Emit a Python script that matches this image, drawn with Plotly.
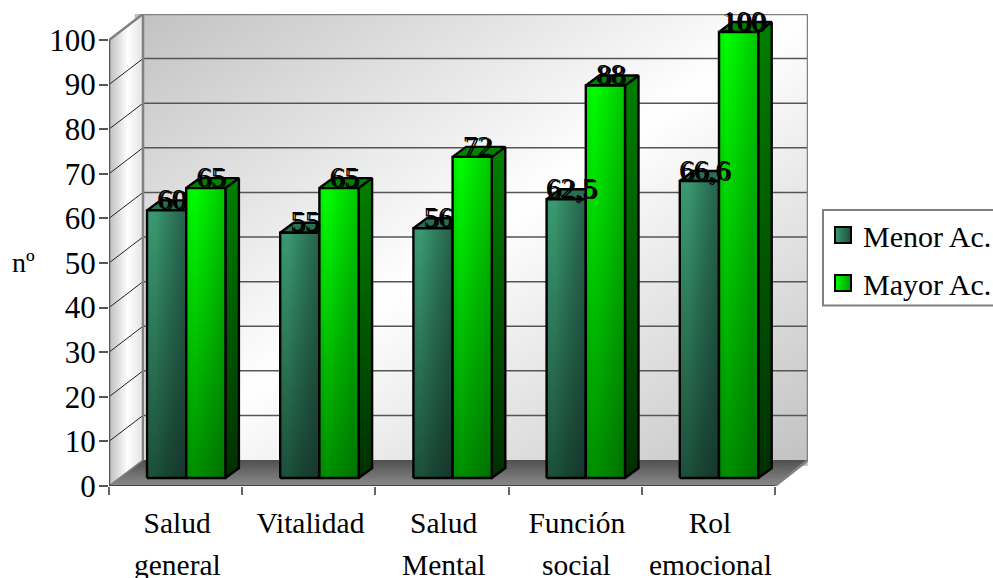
import numpy as np
import plotly.graph_objects as go

# Chart data
line_one = ["Salud", "Vitalidad", "Salud", "Función", "Rol"]
line_two = ["general", "", "Mental", "social", "emocional"]
menor_values = [60, 55, 56, 62.5, 66.6]
mayor_values = [65, 65, 72, 88, 100]
series_names = ["Menor Ac.", "Mayor Ac."]
y_ticks = list(range(0, 101, 10))

# Axis scale: pixels per unit along each axis
PX_X = 133.2
PX_Y = 4.47
FONT = "Liberation Serif"

# Depth of the 3D box and of the bars, in axis units
WALL_DX, WALL_DY = 34 / PX_X, 26 / PX_Y
BASE_Y = 8 / PX_Y
SIDE_DX, SIDE_DY = 13.5 / PX_X, 10 / PX_Y
BAR_START, BAR_W = 38 / PX_X, 39.2 / PX_X
LABEL_DX, LABEL_DY = 5 / PX_X, 8.5 / PX_Y
N = len(menor_values)
GRID = "#555555"
EDGE = "#808080"

fig = go.Figure()


def poly(xs, ys, gradient=None, kind="vertical", line=None, width=2.4):
    """Closed filled polygon, optionally with a gradient fill and an outline."""
    trace = dict(
        x=list(xs) + [xs[0]], y=list(ys) + [ys[0]],
        mode="lines", fill="toself", hoverinfo="skip", showlegend=False,
        line=dict(color=line or "rgba(0,0,0,0)", width=width if line else 0),
    )
    if gradient is not None:
        trace["fillgradient"] = dict(type=kind, colorscale=gradient)
    fig.add_trace(go.Scatter(**trace))


def segment(xs, ys, color, width):
    fig.add_trace(go.Scatter(x=xs, y=ys, mode="lines", hoverinfo="skip", showlegend=False,
                             line=dict(color=color, width=width)))


# Back wall with its diagonal shading
wall_x = np.linspace(WALL_DX, N + 33 / PX_X, 41)
wall_y = np.linspace(WALL_DY, 100 + WALL_DY, 41)
uu, vv = np.meshgrid(np.linspace(0, 1, 41), np.linspace(1, 0, 41))
fig.add_trace(go.Heatmap(
    x=wall_x, y=wall_y, z=(uu + vv) / 2, zmin=0, zmax=1, zsmooth="best",
    showscale=False, hoverinfo="skip",
    colorscale=[[0, "#c2c2c2"], [0.5, "#ffffff"], [1, "#c2c2c2"]],
))
right = wall_x[-1]

# Left wall
poly([0, WALL_DX, WALL_DX, 0], [0, WALL_DY, 100 + WALL_DY, 100],
     gradient=[[0, "#bdbdbd"], [0.55, "#ffffff"], [1, "#e2e2e2"]], kind="horizontal")

# Floor
poly([0, N, right, WALL_DX], [0, 0, WALL_DY, WALL_DY],
     gradient=[[0, "#8a8a8a"], [1, "#505050"]])

# Grid lines across the two walls
for v in y_ticks[1:-1]:
    segment([WALL_DX, right], [v + WALL_DY] * 2, GRID, 1.5)
    segment([0, WALL_DX], [v, v + WALL_DY], "#222222", 1)

# Box outline
segment([0, WALL_DX, right, right, N], [100, 100 + WALL_DY, 100 + WALL_DY, WALL_DY, 0], EDGE, 2.5)
segment([WALL_DX, WALL_DX], [WALL_DY, 100 + WALL_DY], EDGE, 2.5)
segment([0, WALL_DX], [0, WALL_DY], EDGE, 1.5)
segment([0, 0], [0, 100], "#555555", 2.5)
segment([0, N], [0, 0], "#444444", 2)

# Bars: front face, top face and right side, all from the series values
green_dark = dict(
    front=[[0, "#1c4f3a"], [1, "#3a9a72"]],
    shade=[[0, "rgba(0,0,0,0)"], [0.2, "rgba(0,0,0,0)"], [1, "rgba(10,20,25,0.42)"]],
    top="#2a6f54", side=[[0, "#0d2a1f"], [1, "#1f5a44"]],
)
green_bright = dict(
    front=[[0, "#008f00"], [0.55, "#00cc00"], [1, "#00ff00"]],
    shade=[[0, "rgba(0,0,0,0.08)"], [0.2, "rgba(0,0,0,0)"], [1, "rgba(0,0,0,0.22)"]],
    top="#008400", side=[[0, "#002f00"], [1, "#008000"]],
)


def draw_bar(left, value, style):
    r = left + BAR_W
    top = BASE_Y + value
    poly([r, r + SIDE_DX, r + SIDE_DX, r],
         [BASE_Y, BASE_Y + SIDE_DY, top + SIDE_DY, top],
         gradient=style["side"], line="#000000")
    poly([left, r, r + SIDE_DX, left + SIDE_DX],
         [top, top, top + SIDE_DY, top + SIDE_DY],
         gradient=[[0, style["top"]], [1, style["top"]]], line="#000000")
    poly([left, r, r, left], [BASE_Y, BASE_Y, top, top], gradient=style["front"])
    poly([left, r, r, left], [BASE_Y, BASE_Y, top, top], gradient=style["shade"],
         kind="horizontal", line="#000000")


for i in range(N):
    left = i + BAR_START
    draw_bar(left, menor_values[i], green_dark)
    draw_bar(left + BAR_W, mayor_values[i], green_bright)

# Value labels
label_x, label_y, label_text = [], [], []
for i in range(N):
    for j, values in enumerate((menor_values, mayor_values)):
        label_x.append(i + BAR_START + BAR_W * (j + 0.5) + LABEL_DX)
        label_y.append(BASE_Y + values[i] + LABEL_DY)
        label_text.append(f"{values[i]:g}".replace(".", ","))
fig.add_trace(go.Scatter(
    x=label_x, y=label_y, text=label_text, mode="text", textposition="middle center",
    textfont=dict(family=FONT, size=29, color="#000000", shadow="2px 1px 0 #000000"),
    hoverinfo="skip", showlegend=False, cliponaxis=False,
))

# Legend entries
for name, color, shade in zip(series_names, ("#3a9a72", "#00ff00"), ("#1c4f3a", "#00a000")):
    fig.add_trace(go.Scatter(
        x=[None], y=[None], mode="markers", name=name, legendgroup=name,
        marker=dict(symbol="square", size=17, color=color,
                    gradient=dict(type="horizontal", color=shade),
                    line=dict(color="#000000", width=2)),
    ))

# Second line of the category labels, and the vertical axis caption
annotations = [
    dict(x=i + 0.512, y=-(564.5 - 486) / 472, xref="x", yref="paper", text=t, showarrow=False,
         xanchor="center", yanchor="middle",
         font=dict(family=FONT, size=29.5, color="#000000"))
    for i, t in enumerate(line_two) if t
]
annotations.append(dict(x=-(109 - 23.5) / 699, y=(486 - 262) / 472, xref="paper", yref="paper",
                        text="nº", showarrow=False, xanchor="center", yanchor="middle",
                        font=dict(family=FONT, size=28, color="#000000")))

# Frame around the legend; the page edge cuts it on the right
legend_frame = dict(
    type="rect", xref="paper", yref="paper",
    x0=(823 - 109) / 699, x1=(1010 - 109) / 699,
    y0=(486 - 210) / 472, y1=(486 - 305.5) / 472,
    line=dict(color="#808080", width=2), fillcolor="#ffffff", layer="below",
)

fig.update_layout(
    width=993, height=578,
    margin=dict(l=109, r=185, t=14, b=92, autoexpand=False),
    paper_bgcolor="#ffffff", plot_bgcolor="#ffffff",
    hovermode=False,
    shapes=[legend_frame],
    xaxis=dict(
        range=[0, 699 / PX_X], showgrid=False, zeroline=False, showline=False,
        tickmode="array", tickvals=[i + 0.512 for i in range(N)], ticktext=line_one,
        ticks="", ticklabelstandoff=16,
        tickfont=dict(family=FONT, size=29.5, color="#000000"),
        minor=dict(tickmode="array", tickvals=list(range(N + 1)), ticks="outside",
                   ticklen=8, tickwidth=2, tickcolor="#666666", showgrid=False),
    ),
    yaxis=dict(
        range=[0, 100 + WALL_DY], showgrid=False, zeroline=False, showline=False,
        tickmode="array", tickvals=y_ticks, ticks="outside", ticklen=9, tickwidth=2,
        tickcolor="#555555", ticklabelstandoff=-3,
        tickfont=dict(family=FONT, size=31, color="#000000"),
    ),
    legend=dict(
        x=(823 - 109) / 699, y=(486 - 209) / 472, xanchor="left", yanchor="top",
        bgcolor="rgba(0,0,0,0)", borderwidth=0,
        font=dict(family=FONT, size=30, color="#000000"), tracegroupgap=6,
    ),
    annotations=annotations,
)

fig.write_html("out.html")
